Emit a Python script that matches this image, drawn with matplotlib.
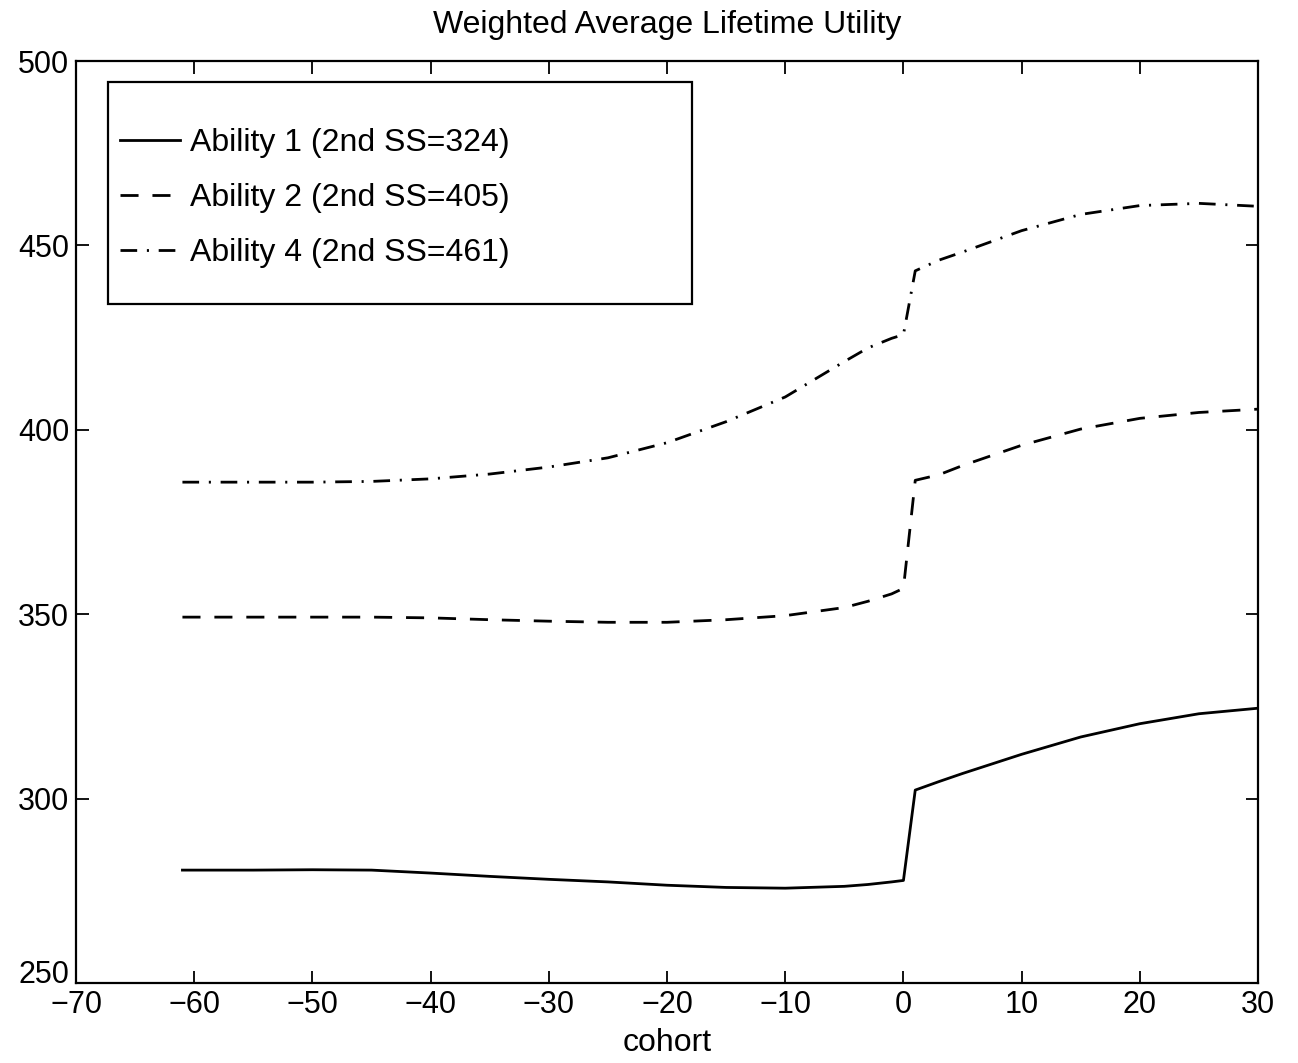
import numpy as np
import matplotlib
matplotlib.use('Agg')
import matplotlib.pyplot as plt
from matplotlib.patches import Rectangle

plt.rcParams['font.family'] = ['Liberation Sans', 'DejaVu Sans']
plt.rcParams['lines.scale_dashes'] = False

# cohorts
cohort = [-61, -55, -50, -45, -40, -35, -30, -25, -20, -15, -10, -5, -3, -1, 0,
          1, 3, 5, 10, 15, 20, 25, 30]

# Ability 1 (solid)
ability1 = [280.6, 280.6, 280.7, 280.6, 279.8, 278.9, 278.1, 277.4, 276.5, 275.9,
            275.7, 276.2, 276.7, 277.4, 277.8,
            302.3, 304.6, 306.8, 312.0, 316.7, 320.3, 323.0, 324.5]
# Ability 2 (dashed)
ability2 = [349.2, 349.2, 349.2, 349.2, 349.0, 348.5, 348.1, 347.8, 347.8, 348.5,
            349.6, 351.8, 353.5, 355.5, 357.0,
            386.3, 387.8, 390.3, 395.8, 400.2, 403.1, 404.7, 405.6]
# Ability 4 (dash-dot)
ability4 = [385.8, 385.8, 385.8, 386.0, 386.7, 388.0, 389.9, 392.4, 396.5, 402.2,
            408.9, 418.5, 422.2, 424.8, 425.8,
            443.1, 446.0, 448.2, 454.0, 458.4, 460.8, 461.4, 460.6]

labels = ['Ability 1 (2nd SS=324)', 'Ability 2 (2nd SS=405)', 'Ability 4 (2nd SS=461)']

fig = plt.figure(figsize=(12.98, 10.63), dpi=100)
ax = fig.add_axes([0.0586, 0.0753, 0.9106, 0.8673])

lw = 2.0
ax.plot(cohort, ability1, color='k', lw=lw, label=labels[0])
ax.plot(cohort, ability2, color='k', lw=lw, dashes=(13, 10), label=labels[1])
ax.plot(cohort, ability4, color='k', lw=lw, dashes=(12, 7, 1.5, 7), label=labels[2])

ax.set_xlim(-70, 30)
ax.set_ylim(250, 500)
ax.set_xticks(np.arange(-70, 31, 10))
ax.set_yticks(np.arange(250, 501, 50))
ax.tick_params(direction='in', length=9, width=1.3, top=True, right=True,
               labelsize=22, pad=5)
for s in ax.spines.values():
    s.set_linewidth(1.6)
# bottom y label sits above the corner like in the original
ax.get_yticklabels()[0].set_verticalalignment('baseline')

ax.set_title('Weighted Average Lifetime Utility', fontsize=23, pad=20)
ax.set_xlabel('cohort', fontsize=23, labelpad=6)

# legend box (MATLAB style, wide frame)
ax.add_patch(Rectangle((0.027, 0.736), 0.494, 0.241, transform=ax.transAxes,
                       fill=False, edgecolor='k', lw=1.6, zorder=5))
ax.legend(loc='upper left', bbox_to_anchor=(0.037, 0.927), frameon=False,
          fontsize=23, handlelength=1.9, handletextpad=0.3, labelspacing=0.78,
          borderaxespad=0, borderpad=0)

fig.savefig('out.png', dpi=100)
